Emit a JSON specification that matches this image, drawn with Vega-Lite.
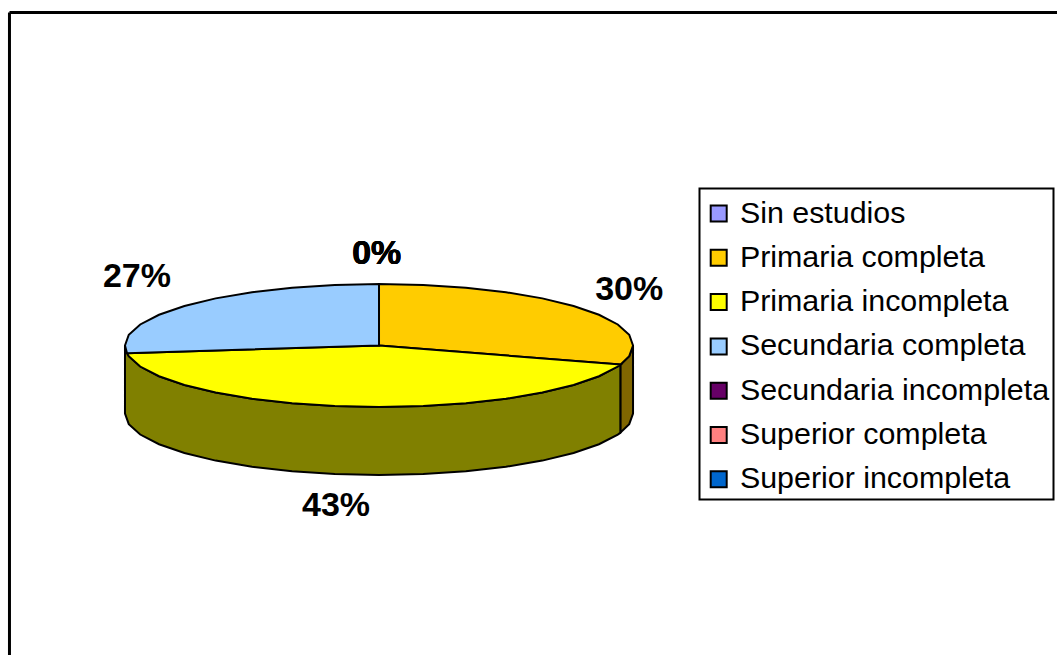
{
"$schema":"https://vega.github.io/schema/vega-lite/v6.json",
"width":1057,"height":655,"padding":0,
"autosize":{"type":"none"},
"background":"white",
"view":{"stroke":null},
"config":{"font":"Liberation Sans","legend":{"strokeWidth":2}},
"datasets":{
"shares":[
{"nivel":"Sin estudios","pct":"0%","lx":-0.011,"ly":1.488},
{"nivel":"Primaria completa","pct":"30%","lx":0.985,"ly":0.905},
{"nivel":"Primaria incompleta","pct":"43%","lx":-0.169,"ly":-2.61},
{"nivel":"Secundaria completa","pct":"27%","lx":-0.953,"ly":1.114},
{"nivel":"Secundaria incompleta","pct":"0%","lx":-0.009,"ly":1.488},
{"nivel":"Superior completa","pct":"0%","lx":-0.009,"ly":1.488},
{"nivel":"Superior incompleta","pct":"0%","lx":-0.008,"ly":1.488}
],
"frame":[
{"x":-1.4547,"x2":-1.4547,"y":5.415,"y2":-5.033},
{"x":-1.4547,"x2":2.669,"y":5.415,"y2":5.415}
],
"walls":[
{"part":"olive","o":1,"x":0.951,"y":-0.309},{"part":"olive","o":2,"x":0.94,"y":-0.342},{"part":"olive","o":3,"x":0.866,"y":-0.5},{"part":"olive","o":4,"x":0.766,"y":-0.643},{"part":"olive","o":5,"x":0.643,"y":-0.766},{"part":"olive","o":6,"x":0.5,"y":-0.866},{"part":"olive","o":7,"x":0.342,"y":-0.94},{"part":"olive","o":8,"x":0.174,"y":-0.985},{"part":"olive","o":9,"x":0,"y":-1},{"part":"olive","o":10,"x":-0.174,"y":-0.985},{"part":"olive","o":11,"x":-0.342,"y":-0.94},{"part":"olive","o":12,"x":-0.5,"y":-0.866},{"part":"olive","o":13,"x":-0.643,"y":-0.766},{"part":"olive","o":14,"x":-0.766,"y":-0.643},{"part":"olive","o":15,"x":-0.866,"y":-0.5},{"part":"olive","o":16,"x":-0.94,"y":-0.342},{"part":"olive","o":17,"x":-0.985,"y":-0.174},{"part":"olive","o":18,"x":-1,"y":0},
{"part":"olive","o":19,"x":-1,"y":-1.106},{"part":"olive","o":20,"x":-0.985,"y":-1.28},{"part":"olive","o":21,"x":-0.94,"y":-1.448},{"part":"olive","o":22,"x":-0.866,"y":-1.606},{"part":"olive","o":23,"x":-0.766,"y":-1.749},{"part":"olive","o":24,"x":-0.643,"y":-1.872},{"part":"olive","o":25,"x":-0.5,"y":-1.972},{"part":"olive","o":26,"x":-0.342,"y":-2.046},{"part":"olive","o":27,"x":-0.174,"y":-2.091},{"part":"olive","o":28,"x":0,"y":-2.106},{"part":"olive","o":29,"x":0.174,"y":-2.091},{"part":"olive","o":30,"x":0.342,"y":-2.046},{"part":"olive","o":31,"x":0.5,"y":-1.972},{"part":"olive","o":32,"x":0.643,"y":-1.872},{"part":"olive","o":33,"x":0.766,"y":-1.749},{"part":"olive","o":34,"x":0.866,"y":-1.606},{"part":"olive","o":35,"x":0.94,"y":-1.448},{"part":"olive","o":36,"x":0.951,"y":-1.415},
{"part":"ochre","o":1,"x":1,"y":0},{"part":"ochre","o":2,"x":0.985,"y":-0.174},{"part":"ochre","o":3,"x":0.951,"y":-0.309},{"part":"ochre","o":4,"x":0.951,"y":-1.415},{"part":"ochre","o":5,"x":0.985,"y":-1.28},{"part":"ochre","o":6,"x":1,"y":-1.106}
],
"tops":[
{"nivel":"Primaria completa","o":0,"x":0,"y":0},{"nivel":"Primaria completa","o":1,"x":0,"y":1},{"nivel":"Primaria completa","o":2,"x":0.174,"y":0.985},{"nivel":"Primaria completa","o":3,"x":0.342,"y":0.94},{"nivel":"Primaria completa","o":4,"x":0.5,"y":0.866},{"nivel":"Primaria completa","o":5,"x":0.643,"y":0.766},{"nivel":"Primaria completa","o":6,"x":0.766,"y":0.643},{"nivel":"Primaria completa","o":7,"x":0.866,"y":0.5},{"nivel":"Primaria completa","o":8,"x":0.94,"y":0.342},{"nivel":"Primaria completa","o":9,"x":0.985,"y":0.174},{"nivel":"Primaria completa","o":10,"x":1,"y":0},{"nivel":"Primaria completa","o":11,"x":0.985,"y":-0.174},{"nivel":"Primaria completa","o":12,"x":0.951,"y":-0.309},
{"nivel":"Primaria incompleta","o":0,"x":0,"y":0},{"nivel":"Primaria incompleta","o":1,"x":0.951,"y":-0.309},{"nivel":"Primaria incompleta","o":2,"x":0.94,"y":-0.342},{"nivel":"Primaria incompleta","o":3,"x":0.866,"y":-0.5},{"nivel":"Primaria incompleta","o":4,"x":0.766,"y":-0.643},{"nivel":"Primaria incompleta","o":5,"x":0.643,"y":-0.766},{"nivel":"Primaria incompleta","o":6,"x":0.5,"y":-0.866},{"nivel":"Primaria incompleta","o":7,"x":0.342,"y":-0.94},{"nivel":"Primaria incompleta","o":8,"x":0.174,"y":-0.985},{"nivel":"Primaria incompleta","o":9,"x":0,"y":-1},{"nivel":"Primaria incompleta","o":10,"x":-0.174,"y":-0.985},{"nivel":"Primaria incompleta","o":11,"x":-0.342,"y":-0.94},{"nivel":"Primaria incompleta","o":12,"x":-0.5,"y":-0.866},{"nivel":"Primaria incompleta","o":13,"x":-0.643,"y":-0.766},{"nivel":"Primaria incompleta","o":14,"x":-0.766,"y":-0.643},{"nivel":"Primaria incompleta","o":15,"x":-0.866,"y":-0.5},{"nivel":"Primaria incompleta","o":16,"x":-0.94,"y":-0.342},{"nivel":"Primaria incompleta","o":17,"x":-0.985,"y":-0.174},{"nivel":"Primaria incompleta","o":18,"x":-0.992,"y":-0.125},
{"nivel":"Secundaria completa","o":0,"x":0,"y":0},{"nivel":"Secundaria completa","o":1,"x":-0.992,"y":-0.125},{"nivel":"Secundaria completa","o":2,"x":-1,"y":0},{"nivel":"Secundaria completa","o":3,"x":-0.985,"y":0.174},{"nivel":"Secundaria completa","o":4,"x":-0.94,"y":0.342},{"nivel":"Secundaria completa","o":5,"x":-0.866,"y":0.5},{"nivel":"Secundaria completa","o":6,"x":-0.766,"y":0.643},{"nivel":"Secundaria completa","o":7,"x":-0.643,"y":0.766},{"nivel":"Secundaria completa","o":8,"x":-0.5,"y":0.866},{"nivel":"Secundaria completa","o":9,"x":-0.342,"y":0.94},{"nivel":"Secundaria completa","o":10,"x":-0.174,"y":0.985},{"nivel":"Secundaria completa","o":11,"x":0,"y":1}
]
},
"encoding":{
"x":{"type":"quantitative","scale":{"domain":[-1.492,2.669],"nice":false,"zero":false},"axis":null},
"y":{"type":"quantitative","scale":{"domain":[-5.033,5.618],"nice":false,"zero":false},"axis":null}
},
"layer":[
{"data":{"name":"walls"},"transform":[{"filter":"datum.part==='olive'"}],
 "mark":{"type":"line","filled":true,"fill":"#808000","stroke":"black","strokeWidth":2,"interpolate":"linear-closed"},
 "encoding":{"x":{"field":"x","type":"quantitative"},"y":{"field":"y","type":"quantitative"},"order":{"field":"o","type":"quantitative"}}},
{"data":{"name":"walls"},"transform":[{"filter":"datum.part==='ochre'"}],
 "mark":{"type":"line","filled":true,"fill":"#806600","stroke":"black","strokeWidth":2,"interpolate":"linear-closed"},
 "encoding":{"x":{"field":"x","type":"quantitative"},"y":{"field":"y","type":"quantitative"},"order":{"field":"o","type":"quantitative"}}},
{"data":{"name":"tops"},
 "mark":{"type":"line","filled":true,"stroke":"black","strokeWidth":2,"interpolate":"linear-closed"},
 "encoding":{"x":{"field":"x","type":"quantitative"},"y":{"field":"y","type":"quantitative"},"order":{"field":"o","type":"quantitative"},
  "color":{"field":"nivel","type":"nominal","sort":null,
   "scale":{"domain":["Sin estudios","Primaria completa","Primaria incompleta","Secundaria completa","Secundaria incompleta","Superior completa","Superior incompleta"],"range":["#9999FF","#FFCC00","#FFFF00","#99CCFF","#660066","#FF8080","#0066CC"]},
   "legend":{"title":" ","titleFontSize":1,"titlePadding":4,"orient":"none","legendX":699.5,"legendY":188.5,"symbolType":"square","symbolSize":256,"symbolStrokeColor":"black","symbolStrokeWidth":2,"symbolOpacity":1,"labelFontSize":30.4,"labelFont":"Liberation Sans","labelColor":"black","labelLimit":400,"labelOffset":6,"rowPadding":12.3,"padding":4,"strokeColor":"black","fillColor":"white","clipHeight":32}}}},
{"data":{"name":"shares"},
 "mark":{"type":"text","font":"Liberation Sans","fontWeight":"bold","fontSize":34,"color":"black","align":"center","baseline":"middle"},
 "encoding":{"x":{"field":"lx","type":"quantitative"},"y":{"field":"ly","type":"quantitative"},"text":{"field":"pct","type":"nominal"}}},
{"data":{"name":"frame"},"mark":{"type":"rule","stroke":"black","strokeWidth":3},
 "encoding":{"x":{"field":"x","type":"quantitative"},"y":{"field":"y","type":"quantitative"},"x2":{"field":"x2"},"y2":{"field":"y2"}}}
]
}
